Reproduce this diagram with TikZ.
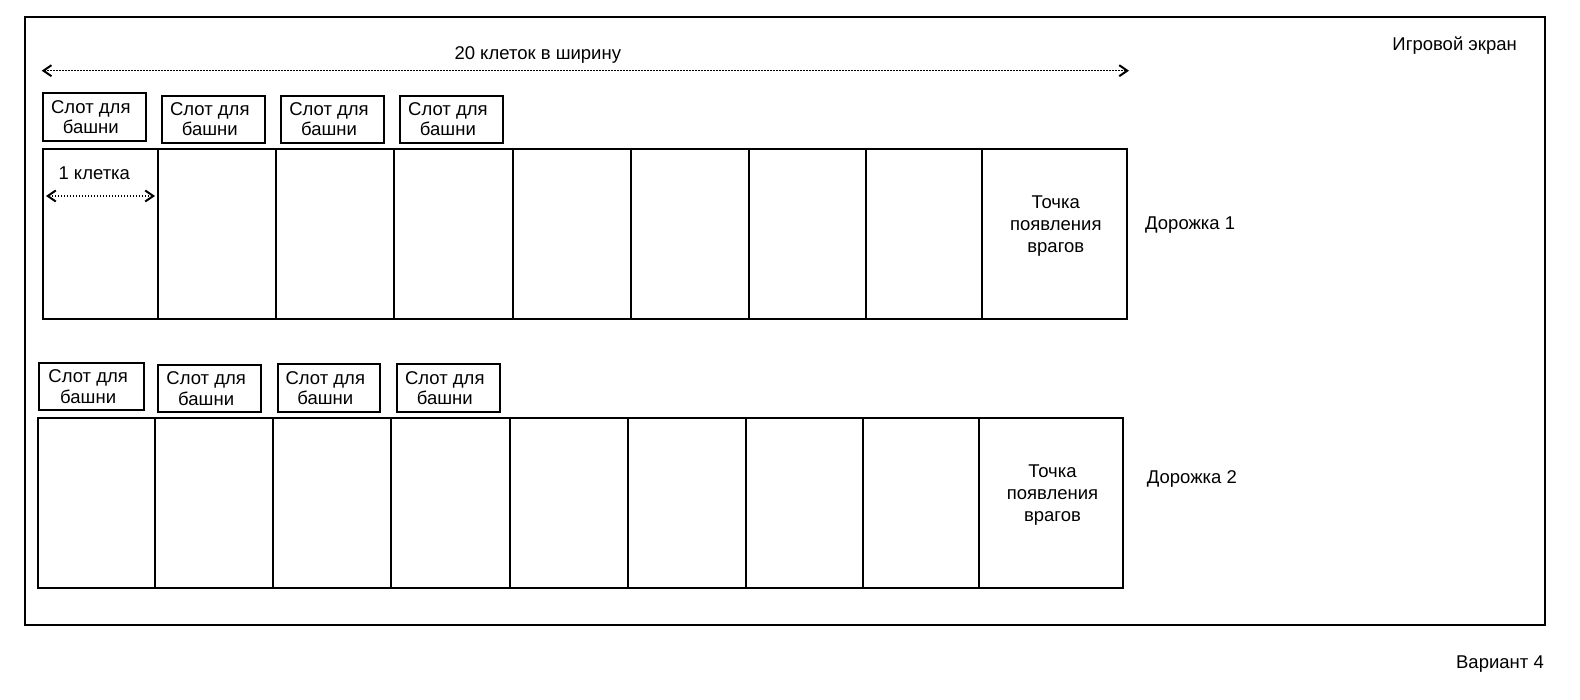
\documentclass[tikz,border=0pt]{standalone}
\usepackage{fontspec}
\setmainfont{Liberation Sans}
\usetikzlibrary{arrows.meta}
\tikzset{
  lbl/.style={inner sep=0pt, font=\fontsize{18.5}{20.7}\selectfont, align=center},
  spawntxt/.style={inner sep=0pt, font=\fontsize{18.5}{22}\selectfont, align=center},
  cellbox/.style={draw, line width=2pt, inner sep=0pt, outer sep=0pt},
  slotbox/.style={draw, line width=2pt, inner sep=0pt, outer sep=0pt},
  dimarrow/.style={line width=1.4pt, dash pattern=on 1.4pt off 1.6pt, {Straight Barb[length=8pt,width=11pt,line width=2pt]}-{Straight Barb[length=8pt,width=11pt,line width=2pt]}},
}
\begin{document}
\begin{tikzpicture}[x=1pt,y=-1pt]
\useasboundingbox (0,0) rectangle (1580,700);
% screen frame
\node[draw, line width=2pt, inner sep=0pt, minimum width=1520pt, minimum height=608pt] (screen) at (785,321) {};
\node[lbl, anchor=east] (screenlbl) at (1517,46) {Игровой экран};
\node[lbl, anchor=east] (variant) at (1544,663.8) {Вариант 4};

% width arrow
\coordinate (wL) at (41.7,70.7);
\coordinate (wR) at (1129,70.7);
\draw[dimarrow] (wL) -- (wR);
\node[lbl] (widthlbl) at (537.8,54.5) {20 клеток в ширину};

% lane 1 cells
\foreach \a/\b [count=\i] in {42.7/157.7, 157.7/276, 276/394, 394/512.9, 512.9/630.8, 630.8/748.7, 748.7/865.6, 865.6/981.7, 981.7/1126.7}{
  \node[cellbox, minimum width={(\b-\a)*1pt}, minimum height=170.2pt] (Ac\i) at ({(\a+\b)/2},234.4) {};
}
% lane 2 cells
\foreach \a/\b [count=\i] in {38.3/155, 155/273.3, 273.3/391, 391/510, 510/627.8, 627.8/745.7, 745.7/862.6, 862.6/979, 979/1123.3}{
  \node[cellbox, minimum width={(\b-\a)*1pt}, minimum height=170pt] (Bc\i) at ({(\a+\b)/2},503.3) {};
}

% spawn texts
\node[spawntxt] (spawnA) at (1055.8,226.3) {Точка\\появления\\врагов};
\node[spawntxt] (spawnB) at (1052.5,495.3) {Точка\\появления\\врагов};

% lane labels
\node[lbl, anchor=west] (laneA) at (1145,225.2) {Дорожка 1};
\node[lbl, anchor=west] (laneB) at (1146.7,478.5) {Дорожка 2};

% one cell arrow
\coordinate (cL) at (46,196);
\coordinate (cR) at (155,196);
\draw[dimarrow] (cL) -- (cR);
\node[lbl] (celllbl) at (94.3,173.2) {1 клетка};

% slots lane 1
\foreach \xa/\ya/\xb/\yb [count=\i] in {42.7/93.3/146/141, 161.7/95.7/265/142.7, 281/95.7/384/142.7, 400/95.7/502.8/142.7}{
  \node[slotbox, minimum width={(\xb-\xa)*1pt}, minimum height={(\yb-\ya)*1pt}] (As\i) at ({(\xa+\xb)/2},{(\ya+\yb)/2}) {};
  \node[lbl] (Ast\i) at ([xshift=-3.5pt,yshift=0pt]As\i.center) {Слот для\\башни};
}
% slots lane 2
\foreach \xa/\ya/\xb/\yb [count=\i] in {39.3/362.7/144/410, 158.3/365/261/411.7, 277.7/364.3/380/411.7, 396.7/364.3/500/411.7}{
  \node[slotbox, minimum width={(\xb-\xa)*1pt}, minimum height={(\yb-\ya)*1pt}] (Bs\i) at ({(\xa+\xb)/2},{(\ya+\yb)/2}) {};
  \node[lbl] (Bst\i) at ([xshift=-3.5pt,yshift=0pt]Bs\i.center) {Слот для\\башни};
}
\end{tikzpicture}
\end{document}
